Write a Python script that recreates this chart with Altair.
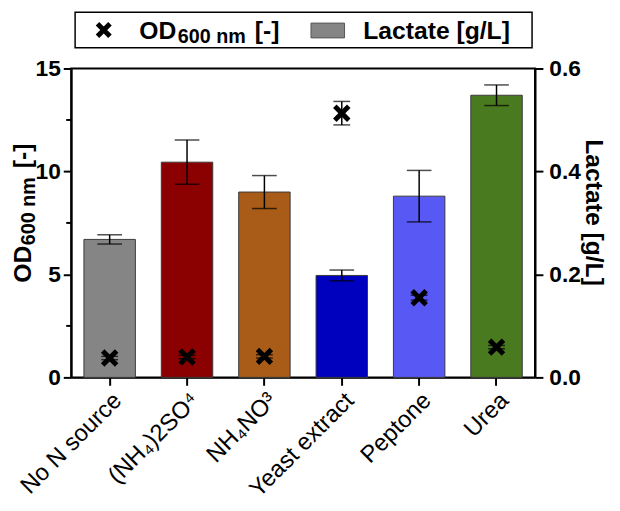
import altair as alt
import pandas as pd

cats = ["No N source", "(NH₄)2SO⁴", "NH₄NO³", "Yeast extract", "Peptone", "Urea"]
lactate = [0.268, 0.418, 0.360, 0.198, 0.352, 0.548]
lactate_err = [0.009, 0.043, 0.032, 0.0105, 0.050, 0.020]
od = [0.94, 0.99, 1.02, 12.83, 3.87, 1.47]
od_err = [0.08, 0.08, 0.08, 0.57, 0.12, 0.08]
colors = ["#858585", "#8b0000", "#a95c18", "#0000bf", "#5858f5", "#4a7a1f"]
od_ticks = [0, 5, 10, 15]
od_minor = [2.5, 7.5, 12.5]
lac_ticks = [0.0, 0.2, 0.4, 0.6]

df = pd.DataFrame({
    "cat": cats,
    "lac": lactate,
    "lac_lo": [v - e for v, e in zip(lactate, lactate_err)],
    "lac_hi": [v + e for v, e in zip(lactate, lactate_err)],
    "od": od,
    "od_lo": [v - e for v, e in zip(od, od_err)],
    "od_hi": [v + e for v, e in zip(od, od_err)],
    "color": colors,
})

FONT = "Liberation Sans"
XPATH = "M-1,-1L1,1M-1,1L1,-1"

x_enc = alt.X(
    "cat:N", sort=cats,
    scale=alt.Scale(paddingInner=0.335, paddingOuter=0.165),
    axis=alt.Axis(title=None, labelAngle=-45, labelFontSize=24, labelFontWeight="normal",
                  labelColor="black", labelFont=FONT, tickSize=8, tickWidth=2, tickColor="black",
                  domainWidth=2, domainColor="black", labelPadding=3, labelLimit=300),
)

lac_scale = alt.Scale(domain=[0, 0.6], nice=False)
od_scale = alt.Scale(domain=[0, 15], nice=False)

lac_axis = alt.Axis(orient="right", values=lac_ticks, format=".1f", title=None,
                    labelFontSize=23, labelFontWeight="bold", labelColor="black",
                    labelFont=FONT, tickSize=8, tickWidth=2, tickColor="black",
                    domainWidth=2, domainColor="black", labelPadding=6, grid=False)
od_axis = alt.Axis(orient="left", values=od_ticks, title=None,
                   labelFontSize=23, labelFontWeight="bold", labelColor="black",
                   labelFont=FONT, tickSize=8, tickWidth=2, tickColor="black",
                   domainWidth=2, domainColor="black", labelPadding=3, grid=False)

base = alt.Chart(df)
xc = alt.X("cat:N", sort=cats)

bars = base.mark_bar(stroke="#3a3a3a", strokeWidth=1).encode(
    x=x_enc,
    y=alt.Y("lac:Q", scale=lac_scale, axis=lac_axis),
    color=alt.Color("color:N", scale=None),
)
lac_rule = base.mark_rule(color="black", strokeWidth=1.5).encode(
    x=xc, y=alt.Y("lac_lo:Q", scale=lac_scale, axis=lac_axis), y2="lac_hi:Q")
lac_cap_lo = base.mark_tick(color="black", thickness=1.5, size=25).encode(
    x=xc, y=alt.Y("lac_lo:Q", scale=lac_scale, axis=lac_axis))
lac_cap_hi = base.mark_tick(color="black", thickness=1.5, size=25).encode(
    x=xc, y=alt.Y("lac_hi:Q", scale=lac_scale, axis=lac_axis))

lac_group = alt.layer(bars, lac_rule, lac_cap_lo, lac_cap_hi)

od_points = base.mark_point(shape=XPATH, size=200, stroke="black", strokeWidth=5,
                            filled=False, opacity=1).encode(
    x=xc, y=alt.Y("od:Q", scale=od_scale, axis=od_axis))
od_rule = base.mark_rule(color="black", strokeWidth=1.5).encode(
    x=xc, y=alt.Y("od_lo:Q", scale=od_scale, axis=od_axis), y2="od_hi:Q")
od_cap_lo = base.mark_tick(color="black", thickness=1.5, size=17).encode(
    x=xc, y=alt.Y("od_lo:Q", scale=od_scale, axis=od_axis))
od_cap_hi = base.mark_tick(color="black", thickness=1.5, size=17).encode(
    x=xc, y=alt.Y("od_hi:Q", scale=od_scale, axis=od_axis))
minor = alt.Chart(pd.DataFrame({"m": od_minor})).mark_rule(color="black", strokeWidth=2).encode(
    y=alt.Y("m:Q", scale=od_scale, axis=od_axis), x=alt.value(0), x2=alt.value(-5))

od_group = alt.layer(od_rule, od_cap_lo, od_cap_hi, od_points, minor)

one = pd.DataFrame({"a": [0]})

def txt(text, x, y, size, angle=0, align="left", baseline="alphabetic"):
    return alt.Chart(one).mark_text(text=text, font=FONT, fontSize=size, fontWeight="bold",
                                    color="black", angle=angle, align=align,
                                    baseline=baseline).encode(x=alt.value(x), y=alt.value(y))

# Left axis title (rotated, with subscript)
t_od = txt("OD", -41, 217, 25, angle=270)
t_sub = txt("600 nm", -37, 179, 20, angle=270)
t_br = txt("[-]", -41, 101, 25, angle=270)
# Right axis title
t_lac = txt("Lactate [g/L]", 530, 146, 25, angle=90, align="center", baseline="middle")

# Legend
leg_box = alt.Chart(one).mark_rect(fill="white", stroke="black", strokeWidth=1.5).encode(
    x=alt.value(4), x2=alt.value(467), y=alt.value(-57), y2=alt.value(-21))
leg_x = alt.Chart(one).mark_point(shape=XPATH, size=160, stroke="black", strokeWidth=5,
                                  filled=False, opacity=1).encode(x=alt.value(33), y=alt.value(-39))
leg_od = txt("OD", 69, -30, 25)
leg_sub = txt("600 nm", 108, -26, 20)
leg_br = txt("[-]", 186, -30, 25)
leg_sw = alt.Chart(one).mark_rect(fill="#858585", stroke="#555555", strokeWidth=1).encode(
    x=alt.value(243), x2=alt.value(277), y=alt.value(-46), y2=alt.value(-31))
leg_lac = txt("Lactate [g/L]", 296, -30, 25)

chart = alt.layer(
    lac_group, od_group,
    t_od, t_sub, t_br, t_lac,
    leg_box, leg_x, leg_od, leg_sub, leg_br, leg_sw, leg_lac,
).resolve_scale(y="independent").properties(
    width=470, height=313,
    autosize=alt.AutoSizeParams(type="none"),
    padding={"left": 64, "top": 58, "right": 78, "bottom": 124},
).configure(font=FONT).configure_view(stroke="black", strokeWidth=2)

chart.save("out.html", embed_options={"renderer": "svg", "actions": False})
